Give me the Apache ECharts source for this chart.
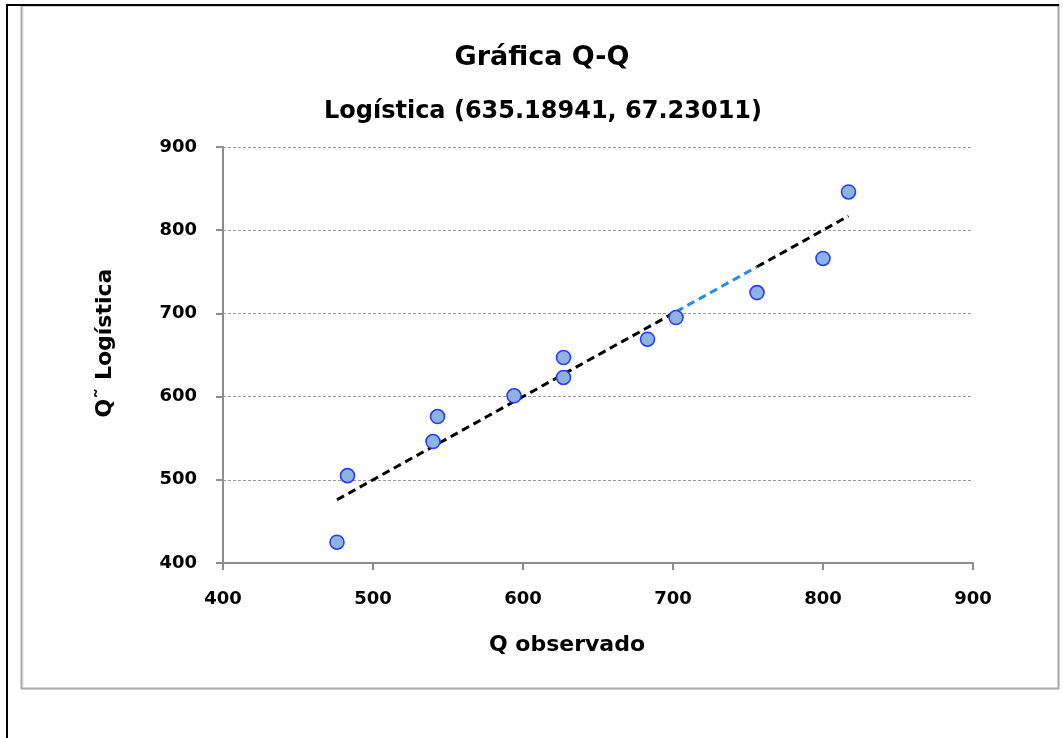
<!DOCTYPE html>
<html>
<head>
<meta charset="utf-8">
<script src="https://cdn.jsdelivr.net/npm/echarts@6/dist/echarts.min.js"></script>
<style>
  html, body { margin: 0; padding: 0; background: #ffffff; }
  #chart { width: 1063px; height: 738px; }
</style>
</head>
<body>
<div id="chart"></div>
<script>
// Data
const titleText = 'Gráfica Q-Q';
const subtitleText = 'Logística (635.18941, 67.23011)';
const xAxisName = 'Q observado';
const yAxisName = 'Q˜ Logística';

const observedQ = [476, 483, 540, 543, 594, 627, 627, 683, 702, 756, 800, 817];
const logisticQ = [425, 505, 546, 576, 601, 623, 647, 669, 695, 725, 766, 846];

// reference line (black dashed), with a blue-highlighted stretch in the middle
const trendLowX = [476, 702];
const trendLowY = [476, 702];
const highlightX = [702, 756];
const highlightY = [702, 756];
const trendHighX = [756, 817];
const trendHighY = [756, 817];

const xTicks = [400, 500, 600, 700, 800, 900];
const yTicks = [400, 500, 600, 700, 800, 900];

const pairs = (xs, ys) => xs.map((v, i) => [v, ys[i]]);

const chart = echarts.init(document.getElementById('chart'), null, { renderer: 'canvas' });
const FONT = '"DejaVu Sans", sans-serif';
const dash = { width: 3, type: [8, 5] };

chart.setOption({
  animation: false,
  backgroundColor: '#ffffff',
  graphic: [
    { type: 'rect', z: -10, silent: true,
      shape: { x: 21.5, y: 5.5, width: 1037, height: 683 },
      style: { fill: '#ffffff', stroke: '#a6a6a6', lineWidth: 2 } },
    { type: 'line', z: -9, silent: true,
      shape: { x1: 23, y1: 7, x2: 23, y2: 688 },
      style: { stroke: '#d9d9d9', lineWidth: 1 } },
    { type: 'line', z: -5, silent: true,
      shape: { x1: 6, y1: 5, x2: 1059, y2: 5 },
      style: { stroke: '#000000', lineWidth: 2 } },
    { type: 'line', z: -5, silent: true,
      shape: { x1: 7, y1: 4, x2: 7, y2: 738 },
      style: { stroke: '#000000', lineWidth: 2 } }
  ],
  title: [
    { text: titleText, left: 537, top: 39, textAlign: 'center',
      textStyle: { fontFamily: FONT, fontWeight: 'bold', fontSize: 27, color: '#000000' } },
    { text: subtitleText, left: 538, top: 95, textAlign: 'center',
      textStyle: { fontFamily: FONT, fontWeight: 'bold', fontSize: 24, color: '#000000' } }
  ],
  grid: { left: 223, right: 90, top: 147, bottom: 175, containLabel: false },
  xAxis: {
    type: 'value', min: 400, max: 900, interval: 100,
    name: xAxisName, nameLocation: 'middle', nameGap: 71,
    nameTextStyle: { fontFamily: FONT, fontWeight: 'bold', fontSize: 22, color: '#000000',
      padding: [0, 62, 0, 0] },
    axisLine: { show: true, onZero: false, lineStyle: { color: '#8c8c8c', width: 2 } },
    axisTick: { show: true, length: 7, lineStyle: { color: '#8c8c8c', width: 2 } },
    axisLabel: { fontFamily: FONT, fontWeight: 'bold', fontSize: 18, color: '#000000', margin: 27,
      formatter: v => xTicks.includes(v) ? String(v) : '' },
    splitLine: { show: false }
  },
  yAxis: {
    type: 'value', min: 400, max: 900, interval: 100,
    name: yAxisName, nameLocation: 'middle', nameGap: 107, nameRotate: 90,
    nameTextStyle: { fontFamily: FONT, fontWeight: 'bold', fontSize: 22, color: '#000000',
      padding: [0, 0, 0, 24] },
    axisLine: { show: true, onZero: false, lineStyle: { color: '#8c8c8c', width: 2 } },
    axisTick: { show: true, length: 7, lineStyle: { color: '#8c8c8c', width: 2 } },
    axisLabel: { fontFamily: FONT, fontWeight: 'bold', fontSize: 18, color: '#000000', margin: 26,
      formatter: v => yTicks.includes(v) ? String(v) : '' },
    splitLine: { show: true, lineStyle: { color: '#999999', width: 1, type: [3, 2] } }
  },
  series: [
    { name: 'trendLow', type: 'line', data: pairs(trendLowX, trendLowY), symbol: 'none', z: 3,
      lineStyle: Object.assign({ color: '#000000' }, dash) },
    { name: 'highlight', type: 'line', data: pairs(highlightX, highlightY), symbol: 'none', z: 3,
      lineStyle: Object.assign({ color: '#1f8ef1' }, dash) },
    { name: 'trendHigh', type: 'line', data: pairs(trendHighX, trendHighY), symbol: 'none', z: 3,
      lineStyle: Object.assign({ color: '#000000' }, dash) },
    { name: 'points', type: 'scatter', data: pairs(observedQ, logisticQ), symbol: 'circle',
      symbolSize: 14, z: 5,
      itemStyle: { color: '#8db3e2', borderColor: '#2a3cf5', borderWidth: 1.6, opacity: 1 } }
  ]
});
</script>
</body>
</html>
